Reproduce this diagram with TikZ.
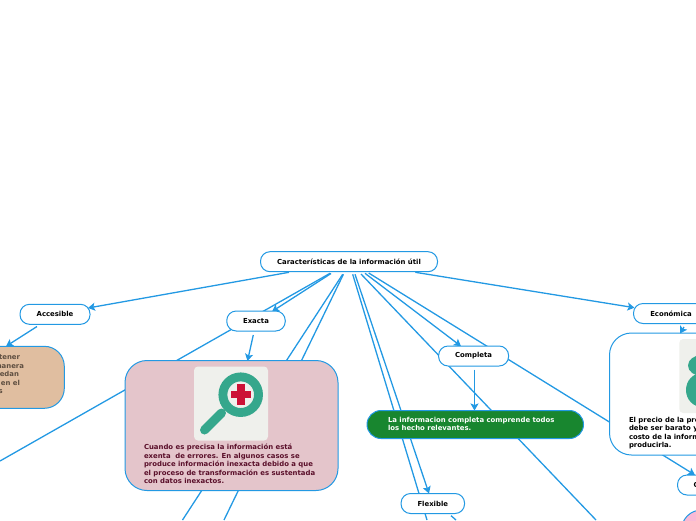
\documentclass[tikz,border=0pt]{standalone}
\usepackage{fontspec}
\setmainfont{DejaVu Sans}
\usetikzlibrary{arrows.meta}
\definecolor{linkblue}{HTML}{2399E3}
\definecolor{pinkfill}{HTML}{E4C5CB}
\definecolor{tanfill}{HTML}{E0BEA0}
\definecolor{greenfill}{HTML}{18862F}
\definecolor{iconbg}{HTML}{EFF0EC}
\definecolor{icongreen}{HTML}{35A78C}
\definecolor{iconred}{HTML}{CC1136}
\definecolor{rosefill}{HTML}{F9B9D6}
\definecolor{pinktext}{HTML}{5A0F2A}
\definecolor{tantext}{HTML}{5E4E40}
\tikzset{
  x=1pt,y=-1pt,
  link/.style={draw=linkblue,line width=1.3pt},
  arrowed/.style={link,-{Stealth[length=7pt,width=8pt,inset=1.5pt]}},
  lbl/.style={draw=linkblue,fill=white,line width=1pt,rounded corners=9.5pt,inner sep=0pt,outer sep=0pt,minimum height=20pt,font=\fontsize{6.9}{8.5}\selectfont\bfseries,text=black},
  para/.style={inner sep=0pt,outer sep=0pt,anchor=north west,align=left,font=\fontsize{6.9}{8.5}\selectfont\bfseries},
  tanline/.style={inner sep=0pt,outer sep=0pt,anchor=base east,text=tantext,font=\fontsize{6.9}{8.5}\selectfont\bfseries},
  bigbox/.style={draw=linkblue,line width=1pt,inner sep=0pt,outer sep=0pt}
}
\begin{document}
\begin{tikzpicture}
\useasboundingbox (0,0) rectangle (696,520);
\clip (0,0) rectangle (696,520);
% free ends
\coordinate (offA) at (0,461);
\coordinate (offB) at (182.5,520);
\coordinate (offC) at (224,520);
\coordinate (offD) at (596,520);
\coordinate (offE) at (427,520);
\coordinate (offF) at (456,520);
\coordinate (r1) at (289,272.3);\coordinate (r2) at (330,273.3);\coordinate (r3) at (331,273.5);
\coordinate (r4) at (342.7,274.3);\coordinate (r5) at (343.4,274.3);\coordinate (r6) at (352.7,274.3);
\coordinate (r7) at (355,274.3);\coordinate (r8) at (361,274);\coordinate (r9) at (365,273.3);
\coordinate (r10) at (368.7,273);\coordinate (r11) at (415.3,272.3);
\coordinate (t1) at (88,308);\coordinate (t2) at (272,311.5);\coordinate (t3) at (461,346.2);
\coordinate (t4) at (429,493.5);\coordinate (t5) at (695,475);\coordinate (t6) at (634.5,307.7);
% connectors behind nodes
\draw[link] (r2) -- (offA);
\draw[link] (r4) -- (offB);
\draw[link] (r5) -- (offC);
\draw[link] (r6) -- (offE);
\draw[link] (r8) -- (offD);
\draw[arrowed] (r1) -- (t1);
\draw[arrowed] (r3) -- (t2);
\draw[arrowed] (r7) -- (t4);
\draw[arrowed] (r9) -- (t3);
\draw[arrowed] (r10) -- (t5);
\draw[arrowed] (r11) -- (t6);
% nodes
\node[lbl,minimum width=177pt] (root) at (349,261.7) {Características de la información útil};
\node[lbl,minimum width=70pt] (acc) at (55,314.3) {Accesible};
\node[lbl,minimum width=58.5pt] (exa) at (256,321) {Exacta};
\node[lbl,minimum width=70pt] (com) at (473.6,356) {Completa};
\node[lbl,minimum width=63.5pt] (fle) at (432.8,503.5) {Flexible};
\node[lbl,minimum width=75pt] (eco) at (671,313.5) {Económica};
\node[lbl,minimum width=70pt,anchor=west] (con) at (677.5,485) {};
\node[font=\fontsize{6.9}{8.5}\selectfont\bfseries,anchor=west,inner sep=0pt] (contxt) at (693.5,485) {C};
\node[bigbox,fill=tanfill,rounded corners=20pt,minimum width=134pt,minimum height=62pt,anchor=north east] (tan) at (64.3,346.3) {};
\node[tanline] (tan1) at (20,359.5) {tener};
\node[tanline] (tan2) at (24,368) {manera};
\node[tanline] (tan3) at (19,376.5) {edan};
\node[tanline] (tan4) at (20,385) {en el};
\node[tanline] (tan5) at (2.7,393.5) {s};
\node[bigbox,fill=pinkfill,rounded corners=22pt,minimum width=213pt,minimum height=130pt,anchor=north west] (pink) at (125,360.5) {};
\node[para,text=pinktext] (pinktxt) at (144,444) {Cuando es precisa la información está\\exenta\ \ de errores. En algunos casos se\\produce información inexacta debido a que\\el proceso de transformación es sustentada\\con datos inexactos.};
\node[fill=iconbg,rounded corners=4pt,minimum size=74pt,inner sep=0pt,outer sep=0pt,anchor=north west] (ic1) at (194,366.5) {};
\draw[icongreen,line width=8.9pt] (240.7,394.7) circle (17.8);
\draw[icongreen,line width=9pt,line cap=round] (221.5,413) -- (204.5,430);
\fill[iconred] (236.6,384.3) rectangle (244.9,405);
\fill[iconred] (230.7,391.2) rectangle (250.7,398.2);
\node[bigbox,fill=greenfill,rounded corners=14pt,minimum width=216.5pt,minimum height=28pt,anchor=north west] (green) at (367,410.5) {};
\node[para,text=white] (greentxt) at (388,417) {La informacion completa comprende todos\\los hecho relevantes.};
\node[bigbox,fill=white,rounded corners=22pt,minimum width=150pt,minimum height=122pt,anchor=north west] (wbox) at (609.5,333) {};
\node[fill=iconbg,rounded corners=4pt,minimum size=74pt,inner sep=0pt,outer sep=0pt,anchor=north west] (ic2) at (679.3,339) {};
\fill[icongreen] (702,365.5) ellipse (14 and 10.5);
\fill[icongreen] (702,390) ellipse (16 and 17);
\node[para,text=black] (wtxt) at (629,416.5) {El precio de la producción\\debe ser barato y\\costo de la información\\producirla.};
\node[bigbox,fill=rosefill,rounded corners=20pt,minimum width=80pt,minimum height=60pt,anchor=north west] (rose) at (681.5,510) {};
% short connectors
\coordinate (a1) at (37,326.5);\coordinate (a2) at (6,346.3);
\coordinate (b1) at (253.3,335);\coordinate (b2) at (247.5,361);
\coordinate (c1) at (474.5,369.5);\coordinate (c2) at (474.5,410.5);
\coordinate (d1) at (684,327);\coordinate (d2) at (680,333.5);
\draw[arrowed] (a1) -- (a2);
\draw[arrowed] (b1) -- (b2);
\draw[arrowed] (c1) -- (c2);
\draw[arrowed] (d1) -- (d2);
\draw[link] (451,515.7) -- (offF);
\end{tikzpicture}
\end{document}
